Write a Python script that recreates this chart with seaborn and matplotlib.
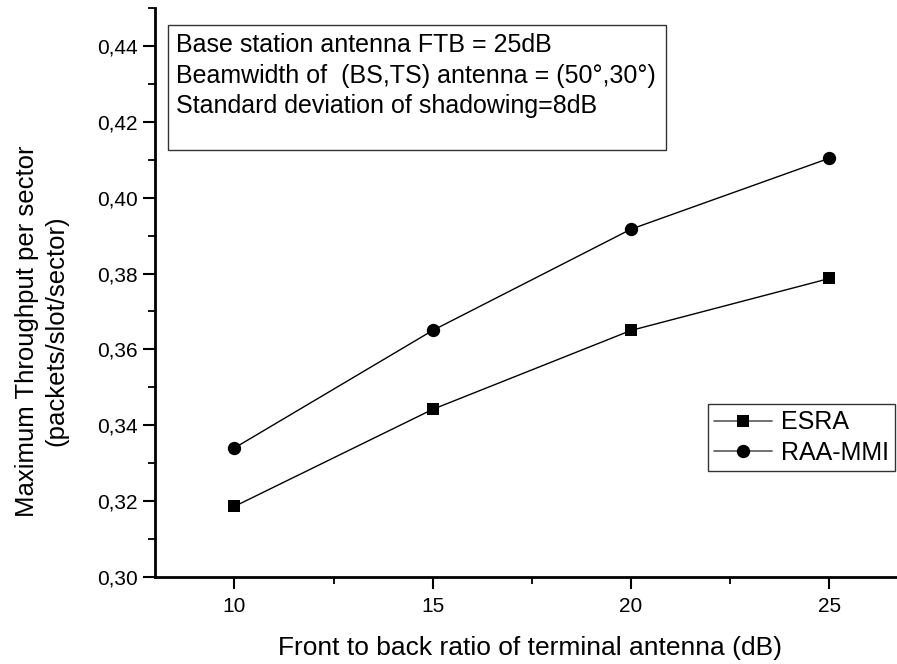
import matplotlib
matplotlib.use("Agg")
import matplotlib.pyplot as plt
import matplotlib.ticker as mticker
from matplotlib.lines import Line2D
from matplotlib.patches import Rectangle
import pandas as pd
import seaborn as sns

# Front-to-back ratio of the terminal antenna (dB)
ftb_db = [10, 15, 20, 25]
# Maximum throughput per sector for each scheme
esra = [0.3186, 0.3442, 0.3650, 0.3787]
raa_mmi = [0.3340, 0.3650, 0.3917, 0.4104]
series_names = ["ESRA", "RAA-MMI"]
series_markers = ["s", "o"]
series_marker_sizes = [8.8, 9.6]

info_lines = [
    "Base station antenna FTB = 25dB",
    "Beamwidth of  (BS,TS) antenna = (50°,30°)",
    "Standard deviation of shadowing=8dB",
]

df = pd.DataFrame({
    "ftb": ftb_db * 2,
    "thr": esra + raa_mmi,
    "scheme": [series_names[0]] * len(ftb_db) + [series_names[1]] * len(ftb_db),
})

sns.set_theme(style="ticks")
plt.rcParams["font.family"] = ["Liberation Sans", "DejaVu Sans"]
plt.rcParams.update({
    "text.color": "black",
    "axes.labelcolor": "black",
    "xtick.color": "black",
    "ytick.color": "black",
    "axes.edgecolor": "black",
})

W, H = 897, 664
fig = plt.figure(figsize=(W / 100, H / 100), dpi=100)
ax = fig.add_axes([155 / W, (H - 577) / H, (W - 155) / W, (577 - 8) / H])

for name, mk, ms in zip(series_names, series_markers, series_marker_sizes):
    sns.lineplot(
        data=df[df["scheme"] == name], x="ftb", y="thr",
        color="black", marker=mk, markersize=ms, markeredgewidth=0,
        linewidth=1.0, legend=False, ax=ax,
    )

ax.set_xlim(8, 8 + (W - 155) / 39.67)
ax.set_ylim(0.30, 0.45)
ax.xaxis.set_major_locator(mticker.FixedLocator(ftb_db))
ax.xaxis.set_minor_locator(mticker.FixedLocator([12.5, 17.5, 22.5]))
ax.yaxis.set_major_locator(mticker.MultipleLocator(0.02))
ax.yaxis.set_minor_locator(mticker.MultipleLocator(0.01))
ax.yaxis.set_major_formatter(mticker.FuncFormatter(lambda v, p: f"{v:.2f}".replace(".", ",")))

for side in ("top", "right"):
    ax.spines[side].set_visible(False)
for side in ("left", "bottom"):
    ax.spines[side].set_linewidth(2.0)
    ax.spines[side].set_color("black")

ax.tick_params(which="major", direction="out", length=8.5, width=1.5, labelsize=15,
               colors="black", labelcolor="black")
ax.tick_params(axis="x", which="major", pad=6)
ax.tick_params(axis="y", which="major", pad=4)
ax.tick_params(which="minor", direction="out", length=5, width=1.3, colors="black")

ax.set_xlabel("")
ax.set_ylabel("")
fig.text(530 / W, 1 - 648 / H, "Front to back ratio of terminal antenna (dB)",
         fontsize=19, ha="center", va="center", color="black")
fig.text(42 / W, 1 - 331 / H, "Maximum Throughput per sector\n(packets/slot/sector)",
         fontsize=18.5, ha="center", va="center", rotation=90, linespacing=1.3, color="black")

# Parameter box in the upper left
def px(x, y):
    return ax.transAxes.inverted().transform(fig.transFigure.transform((x / W, 1 - y / H)))

x0, y0 = px(168, 150)
x1, y1 = px(666, 25)
ax.add_patch(Rectangle((x0, y0), x1 - x0, y1 - y0, transform=ax.transAxes,
                       fill=False, edgecolor="#333333", linewidth=1.0, zorder=5))
for i, line in enumerate(info_lines):
    tx, ty = px(176, 52 + i * 30.5)
    ax.text(tx, ty, line, transform=ax.transAxes, fontsize=18, va="baseline", ha="left", color="black")

# Legend
handles = [
    Line2D([], [], color="#666666", linewidth=1.3, marker=mk, markersize=ms,
           markerfacecolor="black", markeredgecolor="black", markeredgewidth=0, label=name)
    for name, mk, ms in zip(series_names, series_markers, series_marker_sizes)
]
lx, ly = px(708, 404)
leg = ax.legend(handles=handles, loc="upper left", bbox_to_anchor=(lx, ly),
                fontsize=18, frameon=True, fancybox=False, borderaxespad=0,
                handlelength=2.3, handletextpad=0.35, borderpad=0.25, labelspacing=0.25)
leg.get_frame().set_edgecolor("black")
leg.get_frame().set_linewidth(1.0)
for t in leg.get_texts():
    t.set_color("black")

fig.savefig("out.png", dpi=100)
